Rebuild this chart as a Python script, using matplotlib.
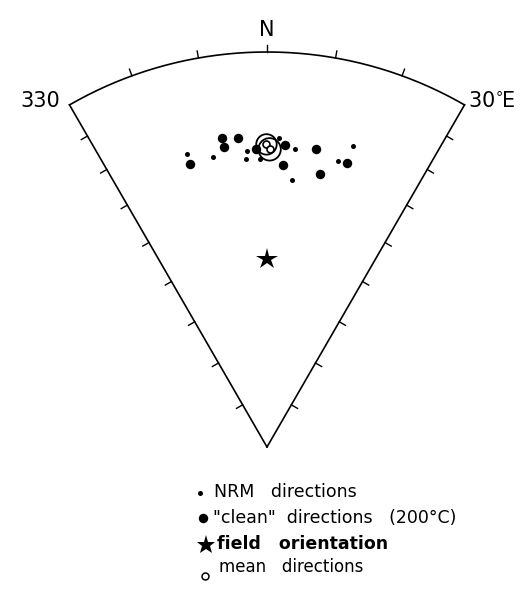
import numpy as np
import matplotlib.pyplot as plt

# NRM directions (declination, inclination in degrees)
nrm_dec = [344.7, 349.5, 356.1, 355.8, 358.6, 2.2, 5.4, 5.3, 14.0, 16.0]
nrm_inc = [24.2, 26.2, 25.8, 27.7, 27.9, 22.8, 25.2, 32.6, 26.2, 21.8]

# "clean" directions after 200 C demagnetisation
clean_dec = [344.8, 351.7, 351.9, 354.7, 357.9, 3.4, 3.3, 9.3, 11.0, 15.8]
clean_inc = [26.7, 22.1, 24.2, 22.6, 25.5, 24.4, 29.2, 24.5, 30.4, 26.3]

# mean directions with alpha95 (deg)
mean_dec = [359.9, 0.5]
mean_inc = [24.4, 25.6]
mean_a95 = [2.1, 2.3]

# present field orientation
field_dec = [0.0]
field_inc = [50.7]

sector = (-30, 30)
arc_ticks = [-20, -10, 0, 10, 20]
inc_ticks = [10, 20, 30, 40, 50, 60, 70, 80]


def proj(dec, inc):
    # equal-area (Schmidt) projection, north up, r=1 at horizontal
    dec = np.radians(np.asarray(dec, dtype=float))
    inc = np.asarray(inc, dtype=float)
    r = np.sqrt(2) * np.sin(np.radians(90 - inc) / 2)
    return r * np.sin(dec), r * np.cos(dec)


fig = plt.figure(figsize=(5.22, 6.09), dpi=100)
ax = fig.add_axes([0, 0, 1, 1])
ax.set_xlim(-267 / 395, 255 / 395)
ax.set_ylim(-162 / 395, 447 / 395)
ax.set_aspect('equal')
ax.axis('off')

lw = 1.2
# outline of the sector
a = np.linspace(sector[0], sector[1], 200)
ax.plot(*proj(a, np.zeros_like(a)), color='black', lw=lw)
for d in sector:
    x, y = proj([d, d], [90, 0])
    ax.plot(x, y, color='black', lw=lw)

# tick marks on the arc (declination)
tl = 0.018
for d in arc_ticks:
    t = np.radians(d)
    ax.plot([np.sin(t), (1 + tl) * np.sin(t)], [np.cos(t), (1 + tl) * np.cos(t)],
            color='black', lw=1.0)

# tick marks on the straight edges (inclination)
for d in sector:
    t = np.radians(d)
    s = np.sign(d)
    nx, ny = s * np.cos(t), -s * np.sin(t)
    for i in inc_ticks:
        x, y = proj(d, i)
        ax.plot([x, x + tl * nx], [y, y + tl * ny], color='black', lw=1.0)

# data
ax.plot(*proj(nrm_dec, nrm_inc), 'o', color='black', ms=3.6, mew=0)
ax.plot(*proj(clean_dec, clean_inc), 'o', color='black', ms=6.8, mew=0)
ax.plot(*proj(field_dec, field_inc), '*', color='black', ms=16, mew=0)
for d, i, a95 in zip(mean_dec, mean_inc, mean_a95):
    x, y = proj(d, i)
    rad = np.sqrt(2) * np.sin(np.radians(a95) / 2)
    ax.add_patch(plt.Circle((x, y), rad, fill=False, color='black', lw=1.3))
    ax.plot(x, y, 'o', mfc='white', mec='black', ms=5, mew=1.2)

# direction labels
ax.text(*proj(0, -3.5), 'N', ha='center', va='bottom', fontsize=15)
x, y = proj(sector[0], 0)
ax.text(x - 0.025, y + 0.01, '330', ha='right', va='center', fontsize=15)
x, y = proj(sector[1], 0)
ax.text(x + 0.008, y + 0.01, '30$^{\\circ}\\!$E', ha='left', va='center', fontsize=15)

# key
def fx(px):
    return px / 522


def fy(py):
    return 1 - py / 609


tr = ax.transAxes
ax.plot(fx(200), fy(493), 'o', color='black', ms=3.6, mew=0, transform=tr)
ax.text(fx(214), fy(492), 'NRM   directions', fontsize=12.5, va='center', transform=tr)
ax.plot(fx(203), fy(518), 'o', color='black', ms=6.8, mew=0, transform=tr)
ax.text(fx(213), fy(518), '"clean"  directions   (200°C)', fontsize=12.5, va='center',
        transform=tr)
ax.plot(fx(206), fy(545), '*', color='black', ms=14, mew=0, transform=tr)
ax.text(fx(217), fy(544), 'field   orientation', fontsize=12.5, va='center',
        fontweight='semibold', transform=tr)
ax.plot(fx(205), fy(576), 'o', mfc='white', mec='black', ms=5, mew=1.1, transform=tr)
ax.text(fx(219), fy(567), 'mean   directions', fontsize=12, va='center', transform=tr)

fig.savefig('out.png', dpi=100, facecolor='white')
